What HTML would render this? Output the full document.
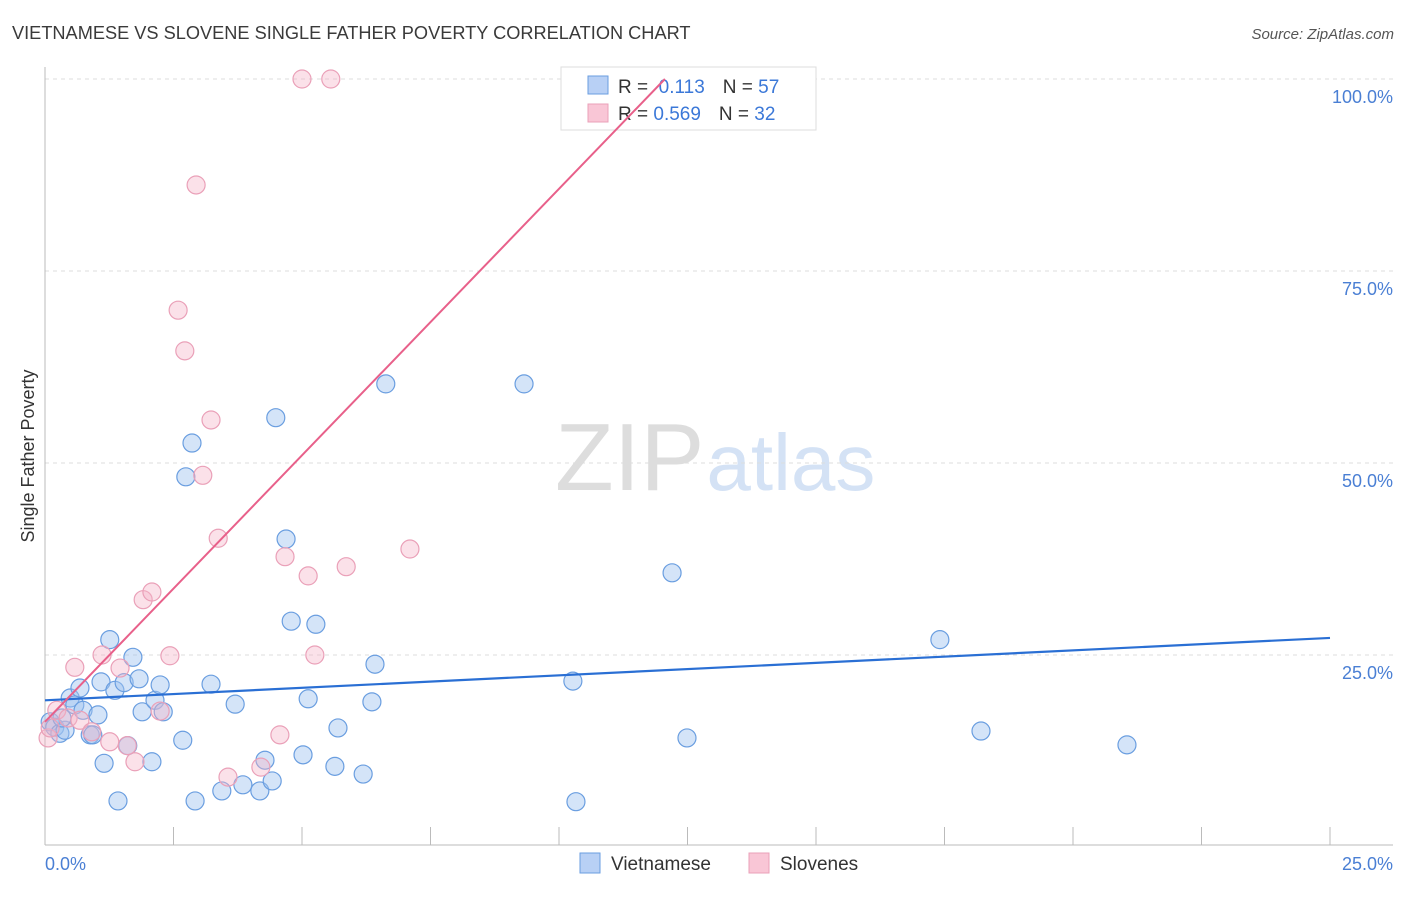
<!DOCTYPE html>
<html><head><meta charset="utf-8"><style>
body{margin:0;background:#fff;font-family:"Liberation Sans",sans-serif}
svg text{font-family:"Liberation Sans",sans-serif}
</style></head><body>
<svg id="chart" width="1406" height="892" xmlns="http://www.w3.org/2000/svg">
<text x="12" y="39" font-size="18.2" fill="#3a3a3a">VIETNAMESE VS SLOVENE SINGLE FATHER POVERTY CORRELATION CHART</text>
<text x="1394" y="39" font-size="15" fill="#555" text-anchor="end" font-style="italic">Source: ZipAtlas.com</text>
<text x="555" y="490" font-size="96" fill="#ddd" font-family="Liberation Serif">ZIP<tspan fill="#d4e2f5" font-family="Liberation Sans" font-size="80" dx="2">atlas</tspan></text>
<g id="grid"></g>
<g id="axes"></g>
<g>
<rect x="561" y="67" width="255" height="63" fill="#fff" stroke="#ddd"/>
<rect x="588" y="76" width="20" height="18" fill="#b8d0f5" stroke="#6a9ee0"/>
<rect x="588" y="104" width="20" height="18" fill="#f9c6d6" stroke="#eaa0b8"/>
<text x="618" y="93" font-size="19" fill="#333">R = <tspan fill="#3b78d8">&#160;0.113</tspan><tspan dx="18" fill="#333">N = </tspan><tspan fill="#3b78d8">57</tspan></text>
<text x="618" y="120" font-size="19" fill="#333">R = <tspan fill="#3b78d8">0.569</tspan><tspan dx="18" fill="#333">N = </tspan><tspan fill="#3b78d8">32</tspan></text>
</g>
<g id="marks"></g>
<text transform="translate(34,456) rotate(-90)" font-size="18" fill="#333" text-anchor="middle">Single Father Poverty</text>
<g>
<rect x="580" y="853" width="20" height="20" fill="#b8d0f5" stroke="#6a9ee0"/>
<text x="611" y="870" font-size="19" fill="#333">Vietnamese</text>
<rect x="749" y="853" width="20" height="20" fill="#f9c6d6" stroke="#eaa0b8"/>
<text x="780" y="870" font-size="19" fill="#333">Slovenes</text>
</g>
</svg>
<script>
const yTicks=[25,50,75,100];
const yTickLabels=["25.0%","50.0%","75.0%","100.0%"];
const xTicks=[2.5,5,7.5,10,12.5,15,17.5,20,22.5,25];
const viX=[0.10,0.19,0.29,0.39,0.49,0.58,0.68,0.74,0.88,0.93,1.03,1.09,1.15,1.26,1.36,1.42,1.54,1.61,1.71,1.83,1.89,2.08,2.14,2.24,2.30,2.68,2.74,2.86,2.92,3.23,3.44,3.70,3.85,4.18,4.28,4.42,4.49,4.69,4.79,5.02,5.12,5.27,5.64,5.70,6.19,6.36,6.42,6.63,9.32,10.27,10.33,12.20,12.49,17.41,18.21,21.05,0.33];
const viY=[16.3,15.6,14.8,15.2,19.4,18.5,20.7,17.8,14.6,14.6,17.2,21.5,10.9,27.0,20.4,6.0,21.4,13.2,24.7,21.9,17.6,11.1,19.1,21.1,17.6,13.9,48.2,52.6,6.0,21.2,7.3,18.6,8.1,7.3,11.3,8.6,55.9,40.1,29.4,12.0,19.3,29.0,10.5,15.5,9.5,18.9,23.8,60.3,60.3,21.6,5.9,35.7,14.2,27.0,15.1,13.3,16.8];
const slX=[0.06,0.10,0.23,0.45,0.58,0.68,0.91,1.11,1.26,1.46,1.60,1.75,1.91,2.08,2.24,2.43,2.59,2.72,2.94,3.07,3.23,3.37,3.56,4.20,4.57,4.67,5.12,5.25,5.00,5.56,5.86,7.10];
const slY=[14.2,15.5,17.8,16.8,23.4,16.5,15.0,25.0,13.7,23.3,13.2,11.1,32.2,33.2,17.7,24.9,69.9,64.6,86.2,48.4,55.6,40.2,9.1,10.4,14.6,37.8,35.3,25.0,100,100,36.5,38.8];
const viLine=[19.1,0.325]; // intercept, slope
const slLine=[16.3,6.94];
const NS="http://www.w3.org/2000/svg";
const X=v=>45+v*51.4, Y=v=>847-v*7.68;
function mk(p,tag,a){const e=document.createElementNS(NS,tag);for(const k in a)e.setAttribute(k,a[k]);p.appendChild(e);return e;}
const grid=document.getElementById('grid'),axes=document.getElementById('axes'),marks=document.getElementById('marks');
yTicks.forEach((t,i)=>{
const l=mk(grid,'line',{x1:45,x2:1393,y1:Y(t),y2:Y(t),stroke:'#ddd','stroke-dasharray':'4,4'});


const tx=mk(grid,'text',{x:1393,y:Y(t)+24,'font-size':18,fill:'#4a7fd4','text-anchor':'end'});
tx.textContent=yTickLabels[i];


});
mk(axes,'line',{x1:45,x2:45,y1:67,y2:845,stroke:'#bbb'});
mk(axes,'line',{x1:45,x2:1393,y1:845,y2:845,stroke:'#bbb'});
xTicks.forEach(t=>{const l=mk(axes,'line',{x1:X(t),x2:X(t),y1:827,y2:845,stroke:'#bbb'});

});
const a=mk(axes,'text',{x:45,y:870,'font-size':18,fill:'#4a7fd4'});a.textContent='0.0%';


const b=mk(axes,'text',{x:1393,y:870,'font-size':18,fill:'#4a7fd4','text-anchor':'end'});b.textContent='25.0%';


viX.forEach((x,i)=>{const c=mk(marks,'circle',{cx:X(x),cy:Y(viY[i]),r:9,fill:'rgba(160,195,240,0.45)',stroke:'#6a9ee0','stroke-width':1.2});

});
slX.forEach((x,i)=>{const c=mk(marks,'circle',{cx:X(x),cy:Y(slY[i]),r:9,fill:'rgba(245,180,200,0.4)',stroke:'#eaa0b8','stroke-width':1.2});

});
const l1=mk(marks,'line',{x1:X(0),y1:Y(viLine[0]),x2:X(25),y2:Y(viLine[0]+25*viLine[1]),stroke:'#2a6fd4','stroke-width':2.2});


const xe=(100-slLine[0])/slLine[1];
const l2=mk(marks,'line',{x1:X(0),y1:Y(slLine[0]),x2:X(xe),y2:Y(100),stroke:'#e8608a','stroke-width':2});


</script>
</body></html>
